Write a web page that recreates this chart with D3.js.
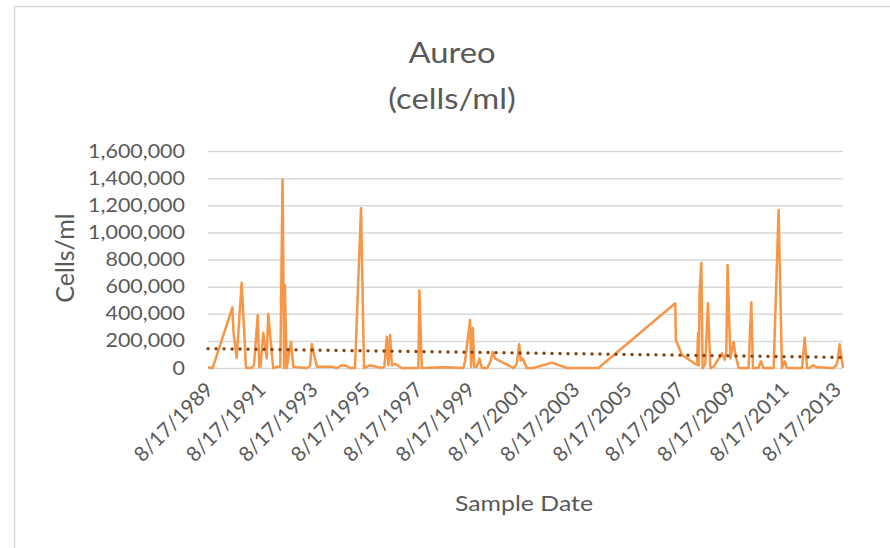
<!DOCTYPE html>
<html><head><meta charset="utf-8">
<script src="https://cdn.jsdelivr.net/npm/d3@7"></script>
<style>
html,body{margin:0;padding:0;background:#fff;}
text{font-family:Lato,"Open Sans",sans-serif;fill:#595959;}
</style></head>
<body><svg id="c" width="890" height="548"></svg>
<script>
// ---- data ----
const dates = ["1989-08-17","1989-10-21","1990-07-24","1990-08-07","1990-09-21","1990-11-30","1991-01-30","1991-04-19","1991-05-21","1991-07-12","1991-08-03","1991-08-20","1991-09-27","1991-11-14","1991-12-06","1992-02-13","1992-04-23","1992-05-22","1992-06-23","1992-07-15","1992-07-25","1992-08-20","1992-10-19","1992-11-20","1993-01-20","1993-05-27","1993-07-12","1993-08-05","1993-10-14","1994-05-11","1994-07-20","1994-09-27","1994-12-06","1995-01-21","1995-03-31","1995-06-23","1995-08-04","1995-10-27","1996-04-08","1996-05-14","1996-06-17","1996-07-09","1996-08-02","1996-08-26","1996-10-11","1997-01-12","1997-09-01","1997-09-15","1997-10-18","1998-09-09","1999-05-22","1999-06-14","1999-08-24","1999-09-07","1999-10-01","1999-10-20","1999-11-26","2000-01-01","2000-02-03","2000-04-21","2000-06-07","2000-07-05","2000-08-06","2001-04-19","2001-06-05","2001-07-08","2001-07-31","2001-08-29","2001-10-23","2002-01-23","2002-10-08","2003-05-05","2004-07-20","2007-06-26","2007-07-05","2007-09-27","2008-04-25","2008-05-10","2008-05-20","2008-05-31","2008-06-24","2008-07-12","2008-08-19","2008-09-25","2008-10-28","2008-12-13","2009-04-09","2009-05-15","2009-06-08","2009-06-26","2009-08-03","2009-09-18","2009-10-12","2009-11-27","2010-04-15","2010-05-23","2010-06-15","2010-08-29","2010-10-05","2010-11-11","2011-03-31","2011-06-08","2011-07-25","2011-08-31","2011-10-03","2012-05-01","2012-06-06","2012-07-10","2012-08-11","2012-10-01","2012-11-26","2013-07-15","2013-09-01","2013-10-07","2013-11-23"];
const values = [5000,0,447000,268000,74000,629000,0,0,20000,391000,10000,10000,260000,71000,398000,0,10000,10000,1391000,0,612000,0,194000,10000,5000,0,15000,177000,10000,10000,0,20000,15000,0,0,1177000,0,20000,0,10000,231000,20000,243000,20000,30000,0,0,572000,0,5000,0,50000,354000,10000,295000,10000,10000,70000,0,0,55000,120000,70000,0,30000,175000,55000,70000,0,0,40000,0,0,477000,206000,96000,22000,260000,20000,550000,776000,0,30000,477000,0,10000,108000,60000,120000,759000,70000,194000,100000,0,0,484000,0,0,50000,0,0,1165000,0,50000,0,0,223000,0,0,20000,5000,0,30000,175000,0];
const trendDates = ["1989-08-17","2013-11-23"];
const trendValues = [143000,78000];
const yTicks = [0,200000,400000,600000,800000,1000000,1200000,1400000,1600000];
const xTickDates = ["1989-08-17","1991-08-17","1993-08-17","1995-08-17","1997-08-17","1999-08-17","2001-08-17","2003-08-17","2005-08-17","2007-08-17","2009-08-17","2011-08-17","2013-08-17"];
const titleLines = ["Aureo","(cells/ml)"];

// ---- chart ----
const parse = d3.timeParse("%Y-%m-%d");
const svg = d3.select("#c");
const x = d3.scaleTime().domain([parse(dates[0]), parse(dates[dates.length-1])]).range([208, 843]);
const y = d3.scaleLinear().domain([0,1600000]).range([368,151]);
const SX = 1.13;

// border
svg.append("rect").attr("x",14.5).attr("y",6.5).attr("width",890).attr("height",560)
  .attr("fill","none").attr("stroke","#d9d9d9").attr("stroke-width",1.5);

// gridlines + y labels
const yAxis = d3.axisLeft(y).tickValues(yTicks).tickSize(-(843-208)).tickFormat(d3.format(","));
const ga = svg.append("g").attr("transform","translate(208,0)").call(yAxis);
ga.select(".domain").remove();
ga.selectAll(".tick line").attr("stroke","#d9d9d9").attr("stroke-width",1.5);
ga.selectAll(".tick text").attr("x",0).attr("font-size",19).attr("fill","#595959")
  .attr("transform",`translate(-23,0) scale(${SX},1)`)
  .style("font-family","Lato,sans-serif");

// x axis labels
const xAxis = d3.axisBottom(x).tickValues(xTickDates.map(parse)).tickSize(0)
  .tickFormat(d => (d.getMonth()+1)+"/"+d.getDate()+"/"+d.getFullYear());
const gx = svg.append("g").attr("transform","translate(0,368)").call(xAxis);
gx.select(".domain").remove();
gx.selectAll(".tick text").attr("font-size",20.5).attr("fill","#595959")
  .style("font-family","Lato,sans-serif")
  .attr("text-anchor","end").attr("dy",0).attr("y",0)
  .attr("transform","translate(6,23) rotate(-45)");

// line
const line = d3.line().x((d,i)=>x(parse(dates[i]))).y((d,i)=>y(values[i]));
svg.append("path").attr("d", line(values)).attr("fill","none")
  .attr("stroke","#F79646").attr("stroke-width",2.5).attr("stroke-linejoin","round");

// trend
const tline = d3.line().x((d,i)=>x(parse(trendDates[i]))).y((d,i)=>y(trendValues[i]));
svg.append("path").attr("d", tline(trendValues)).attr("fill","none")
  .attr("stroke","#8B4513").attr("stroke-width",3.4).attr("stroke-linecap","round")
  .attr("stroke-dasharray","0.1 7.9");

// titles
svg.append("text").attr("transform",`translate(452,63) scale(${SX},1)`).attr("text-anchor","middle").attr("font-size",29).text(titleLines[0]);
svg.append("text").attr("transform",`translate(452,109) scale(${SX},1)`).attr("text-anchor","middle").attr("font-size",29).text(titleLines[1]);
svg.append("text").attr("transform","translate(74,258) rotate(-90)").attr("text-anchor","middle").attr("font-size",25).text("Cells/ml");
svg.append("text").attr("transform",`translate(524,511) scale(${SX},1)`).attr("text-anchor","middle").attr("font-size",22).text("Sample Date");
</script></body></html>
